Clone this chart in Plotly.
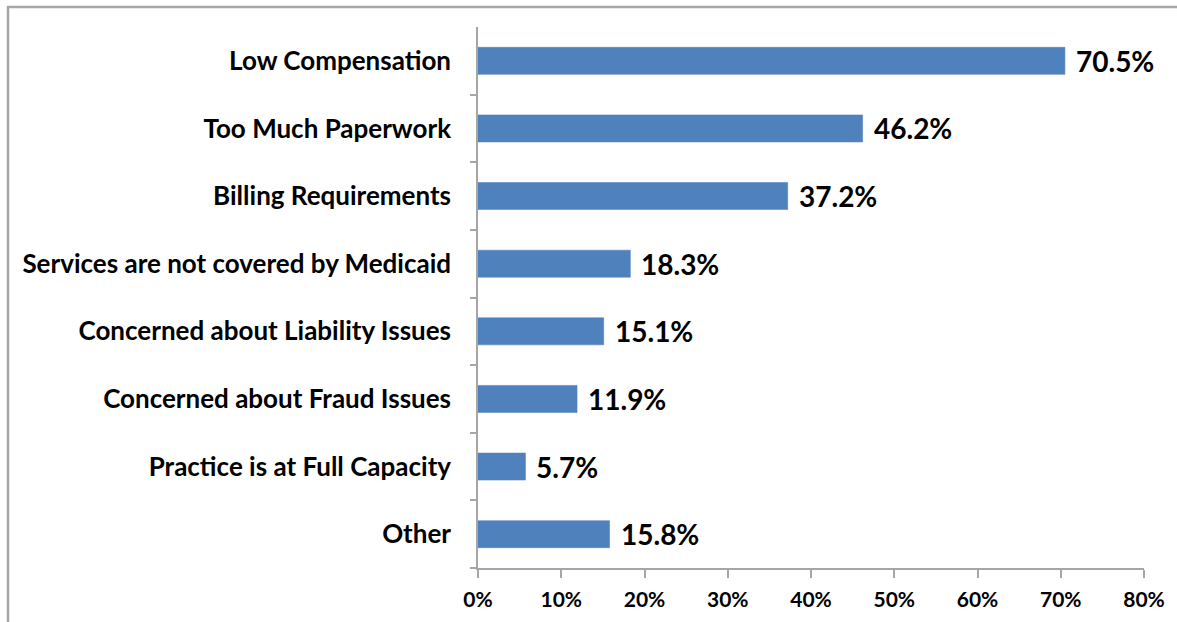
import plotly.graph_objects as go

categories = [
    "Low Compensation",
    "Too Much Paperwork",
    "Billing Requirements",
    "Services are not covered by Medicaid",
    "Concerned about Liability Issues",
    "Concerned about Fraud Issues",
    "Practice is at Full Capacity",
    "Other",
]
values = [70.5, 46.2, 37.2, 18.3, 15.1, 11.9, 5.7, 15.8]
x_ticks = [0, 10, 20, 30, 40, 50, 60, 70, 80]
x_tick_labels = [f"{t}%" for t in x_ticks]

FONT = "Lato, 'Open Sans', sans-serif"
AXIS_GREY = "#A6A6A6"

fig = go.Figure(
    go.Bar(
        x=values,
        y=categories,
        orientation="h",
        width=0.4,
        marker=dict(color="#4F81BD", line=dict(color="#4A7EBB", width=0.5)),
        hoverinfo="x+y",
    )
)

# value labels just to the right of each bar
for cat, v in zip(categories, values):
    fig.add_annotation(
        x=v,
        y=cat,
        xref="x",
        yref="y",
        text=f"<b>{v:.1f}%</b>",
        showarrow=False,
        xanchor="left",
        yanchor="middle",
        xshift=9,
        yshift=0,
        font=dict(family=FONT, size=28, color="#000000"),
    )

fig.update_layout(
    width=1177,
    height=622,
    margin=dict(l=478, r=33, t=27, b=54),
    paper_bgcolor="white",
    plot_bgcolor="white",
    showlegend=False,
    font=dict(family=FONT, color="#000000"),
    xaxis=dict(
        range=[0, 80],
        tickvals=x_ticks,
        ticktext=[f"<b>{t}</b>" for t in x_tick_labels],
        tickfont=dict(family=FONT, size=21, color="#000000"),
        showgrid=False,
        zeroline=False,
        showline=True,
        linecolor=AXIS_GREY,
        linewidth=1.5,
        ticks="outside",
        ticklen=8,
        tickcolor=AXIS_GREY,
        tickwidth=1.5,
        ticklabelstandoff=4,
    ),
    yaxis=dict(
        categoryorder="array",
        categoryarray=categories[::-1],
        tickvals=categories,
        ticktext=[f"<b>{c}</b>" for c in categories],
        tickfont=dict(family=FONT, size=26, color="#000000"),
        showgrid=False,
        zeroline=False,
        showline=True,
        linecolor=AXIS_GREY,
        linewidth=1.5,
        ticks="outside",
        tickson="boundaries",
        ticklen=6,
        tickcolor=AXIS_GREY,
        tickwidth=1.5,
        ticklabelstandoff=20,
    ),
    shapes=[
        dict(
            type="rect",
            xref="paper", yref="paper",
            x0=(8 - 478) / (1177 - 478 - 33),
            x1=1.2,
            y0=-0.2,
            y1=1 + (27 - 7) / (622 - 27 - 54),
            line=dict(color="#A6A6A6", width=2.5),
            fillcolor="rgba(0,0,0,0)",
            layer="below",
        )
    ],
)

fig.write_html("out.html")
